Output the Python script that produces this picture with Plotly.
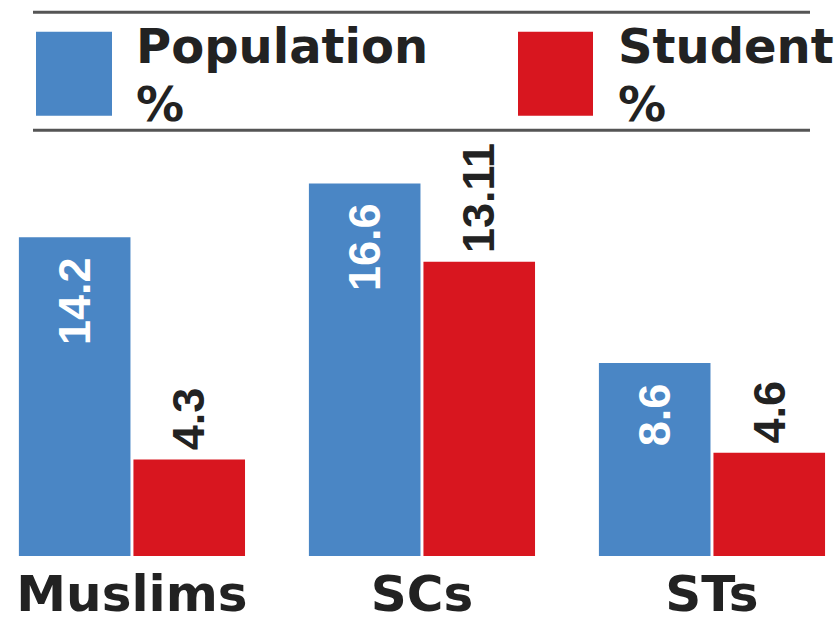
import plotly.graph_objects as go

categories = ["Muslims", "SCs", "STs"]
population_pct = [14.2, 16.6, 8.6]
student_pct = [4.3, 13.11, 4.6]
population_labels = ["14.2", "16.6", "8.6"]
student_labels = ["4.3", "13.11", "4.6"]
series_names = ["Population", "Student"]

BLUE = "#4a86c5"
RED = "#d8161f"
INK = "#222222"
RULE = "#555555"

W, H = 839, 623
T, B = 140, 53
PLOT_H = H - T - B


def py(y):
    """pixel y (from top) -> paper y"""
    return (H - B - y) / PLOT_H


def px(x):
    return x / W


fig = go.Figure()
fig.add_trace(go.Bar(x=categories, y=population_pct, name=series_names[0],
                     marker=dict(color=BLUE, line=dict(width=0))))
fig.add_trace(go.Bar(x=categories, y=student_pct, name=series_names[1],
                     marker=dict(color=RED, line=dict(width=0))))

slot = (1 - 0.21) / 2
val_font = "Liberation Sans, Arial"
annotations = []
for i, (v, lab) in enumerate(zip(population_pct, population_labels)):
    annotations.append(dict(x=i - slot / 2, y=v, xref="x", yref="y", text="<b>%s</b>" % lab,
                            showarrow=False, textangle=-90, yanchor="top", xanchor="center",
                            yshift=-18,
                            font=dict(family=val_font, size=45, color="white")))
for i, (v, lab) in enumerate(zip(student_pct, student_labels)):
    annotations.append(dict(x=i + slot / 2, y=v, xref="x", yref="y", text="<b>%s</b>" % lab,
                            showarrow=False, textangle=-90, yanchor="bottom", xanchor="center",
                            yshift=7,
                            font=dict(family=val_font, size=45, color=INK)))

legend_font = dict(family="DejaVu Sans", size=48, color=INK)
LEG_SPLIT = 73
for lx, name in ((135, series_names[0]), (617, series_names[1])):
    annotations.append(dict(x=px(lx), y=py(LEG_SPLIT), xref="paper", yref="paper",
                            text="<b>" + name + "</b>", showarrow=False, borderpad=0,
                            xanchor="left", yanchor="bottom", font=legend_font))
    annotations.append(dict(x=px(lx), y=py(LEG_SPLIT), xref="paper", yref="paper",
                            text="<b>%</b>", showarrow=False, borderpad=0,
                            xanchor="left", yanchor="top", font=legend_font))

shapes = [
    dict(type="line", xref="paper", yref="paper", x0=px(33), x1=px(810), y0=py(8), y1=py(8),
         line=dict(color=RULE, width=3)),
    dict(type="line", xref="paper", yref="paper", x0=px(33), x1=px(810), y0=py(130), y1=py(130),
         line=dict(color=RULE, width=3)),
    dict(type="rect", xref="paper", yref="paper", x0=px(36), x1=px(112), y0=py(115), y1=py(28),
         fillcolor=BLUE, line=dict(width=0)),
    dict(type="rect", xref="paper", yref="paper", x0=px(518), x1=px(593), y0=py(115), y1=py(28),
         fillcolor=RED, line=dict(width=0)),
]

fig.update_layout(
    width=W, height=H,
    margin=dict(l=0, r=0, t=T, b=B, pad=0),
    paper_bgcolor="white", plot_bgcolor="white",
    barmode="group", bargap=0.21, bargroupgap=0.026,
    showlegend=False,
    annotations=annotations,
    shapes=shapes,
    xaxis=dict(range=[-0.455, 2.438], showgrid=False, zeroline=False, showline=False,
               ticks="", tickfont=dict(family="DejaVu Sans", size=50, color=INK),
               tickvals=categories, ticktext=["<b>%s</b>" % c for c in categories],
               ticklabelstandoff=4),
    yaxis=dict(range=[0, PLOT_H / 23.2], visible=False, showgrid=False, zeroline=False),
)

fig.write_html("out.html", config={"displayModeBar": False},
               post_script="document.body.style.margin='0px';document.body.style.overflow='hidden';")
